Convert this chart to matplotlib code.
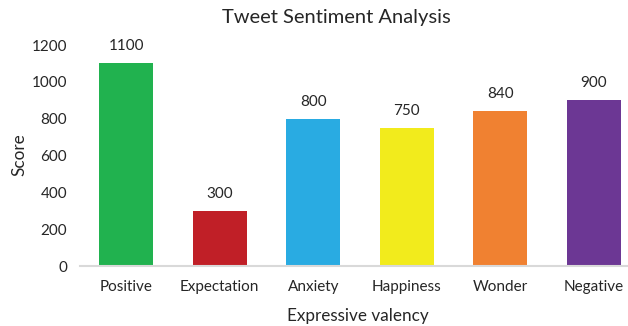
import matplotlib
matplotlib.use("Agg")
import matplotlib.pyplot as plt

categories = ["Positive", "Expectation", "Anxiety", "Happiness", "Wonder", "Negative"]
scores = [1100, 300, 800, 750, 840, 900]
colors = ["#21B24F", "#C01F27", "#29ABE2", "#F2EB1C", "#F08131", "#6C3794"]
yticks = [0, 200, 400, 600, 800, 1000, 1200]

plt.rcParams['font.family'] = ['Lato', 'DejaVu Sans']
W, H = 628, 326
fig = plt.figure(figsize=(W/100, H/100), dpi=100)
ax = fig.add_axes([79.5/W, 60/H, 561/W, 221/H])

x = list(range(len(categories)))
ax.bar(x, scores, width=0.58, color=colors)
for xi, v in zip(x, scores):
    ax.text(xi, v + 55, str(v), ha='center', va='bottom', fontsize=11, color='#262626')

ax.set_xlim(-0.5, 5.5)
ax.set_ylim(0, 1200)
ax.set_xticks(x)
ax.set_xticklabels(categories)
ax.set_yticks(yticks)
ax.tick_params(axis='both', length=0, labelsize=11, labelcolor='#262626')
ax.tick_params(axis='x', pad=10)
ax.tick_params(axis='y', pad=9)
for s in ['top', 'right', 'left']:
    ax.spines[s].set_visible(False)
ax.spines['bottom'].set_color('#d9d9d9')
ax.spines['bottom'].set_linewidth(1.5)

fig.text(358/W, 1 - 316/H, "Expressive valency", ha='center', va='center', fontsize=12.3, color='#262626')
fig.text(19/W, 1 - 155/H, "Score", ha='center', va='center', rotation=90, fontsize=12.3, color='#262626')
fig.text(336.5/W, 1 - 17/H, "Tweet Sentiment Analysis", ha='center', va='center', fontsize=14.5, color='#262626')

fig.savefig("out.png", dpi=100)
